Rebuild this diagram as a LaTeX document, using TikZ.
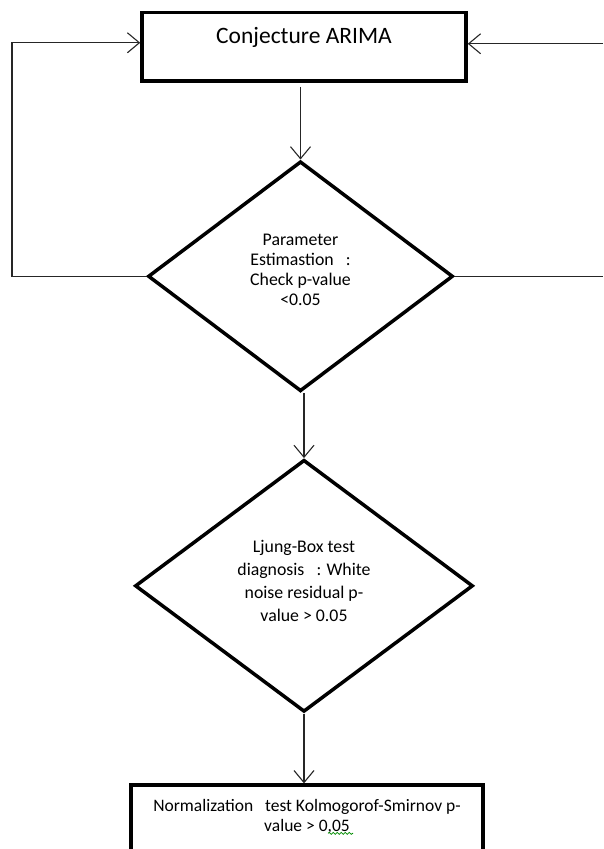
\documentclass[tikz,border=0pt]{standalone}
\usepackage{fontspec}
\setmainfont{Carlito}
\usetikzlibrary{matrix}
\usetikzlibrary{arrows.meta}
\usetikzlibrary{shapes.geometric}
\usetikzlibrary{decorations.pathmorphing}

\tikzset{
  stage/.style={draw,rectangle,line width=3.5pt,align=center},
  check/.style={draw,diamond,line width=3.5pt,align=center,inner sep=0pt,font=\fontsize{17.8}{20}\selectfont},
  flow/.style={line width=1.1pt,black!85},
  spellmark/.style={green!55!black,line width=.8pt,decorate,decoration={snake,amplitude=1pt,segment length=4pt}}
}

\begin{document}
\begin{tikzpicture}[x=1pt,y=-1pt,>={Straight Barb[length=12pt,width=20pt]}]
  \useasboundingbox (0,0) rectangle (603,849);
  \clip (0,0) rectangle (603,849);
  \matrix (m) [row sep=64.5pt,matrix anchor=conj.north,inner sep=0pt] at (304,10.75)
  {
     \node[stage,minimum width=324pt,minimum height=68.5pt,text height=16pt,text depth=22pt,font=\fontsize{23.5}{26}\selectfont] (conj) {Conjecture ARIMA}; \\[13pt]
     \node[check,xshift=-3.5pt,minimum width=305pt,minimum height=230pt,text depth=12pt] (param) {Parameter\\Estimastion\ \ \ :\\Check p-value\\<0.05}; \\[2pt]
     \node[check,minimum width=338pt,minimum height=252pt,text depth=10pt,font=\fontsize{17.8}{23}\selectfont] (ljung) {Ljung-Box test\\diagnosis\ \ \ : White\\noise residual p-\\value > 0.05}; \\[6pt]
     \node[stage,xshift=3pt,minimum width=352pt,inner ysep=14pt,text depth=70pt,font=\fontsize{17.5}{20}\selectfont] (norm) {Normalization\ \ \ test Kolmogorof-Smirnov p-\\value > 0,05}; \\
  };
  \coordinate (wall) at (12,0);
  \coordinate (edge) at (603,0);
  \draw[flow,->,shorten <=4pt] (conj.south -| param.north) -- (param.north);
  \draw[flow,->] (ljung.north |- param.south) -- (ljung.north);
  \draw[flow,->] (ljung.south) -- (ljung.south |- norm.north);
  \draw[flow,->] (param.west) -- (param.west -| wall) |- ([yshift=4pt]conj.west);
  \draw[flow,->] ([yshift=3pt]conj.east -| edge) -- ([yshift=3pt]conj.east);
  \draw[flow] (param.east) -- (param.east -| edge);
  % wavy spell-check underline below ",05"
  \draw[spellmark] ([xshift=21pt,yshift=-50pt]norm.north) -- ++(25,0);
\end{tikzpicture}
\end{document}
